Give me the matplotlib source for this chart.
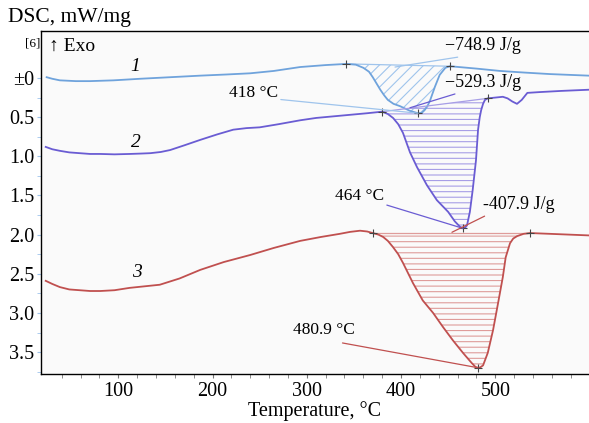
import matplotlib.pyplot as plt
import numpy as np

plt.rcParams['font.family'] = ['Liberation Serif', 'DejaVu Serif']
plt.rcParams['hatch.linewidth'] = 0.8

# curve 1 (light blue)
t1 = [24, 30, 38, 55, 70, 95, 123, 155, 187, 215, 240, 265, 293, 320, 342, 352, 360,
      366, 370, 374, 378, 382, 386, 392, 399, 409.5, 418, 422, 425, 428, 431, 436,
      441, 447, 452, 480, 505, 530, 558, 599]
d1 = [-0.01, 0.01, 0.03, 0.04, 0.04, 0.03, 0.01, -0.01, -0.03, -0.045, -0.06, -0.09,
      -0.14, -0.165, -0.18, -0.17, -0.13, -0.08, -0.01, 0.07, 0.15, 0.22, 0.28, 0.33,
      0.36, 0.42, 0.45, 0.445, 0.41, 0.36, 0.28, 0.11, -0.04, -0.13, -0.15, -0.12,
      -0.09, -0.07, -0.05, -0.03]
base1 = [(342, -0.18), (452, -0.15)]

# curve 2 (purple)
t2 = [23, 30, 38, 48, 59, 70, 81, 96, 112, 124, 134, 145, 155, 170, 187, 205, 222,
      236, 250, 270, 293, 310, 328, 346, 364, 380, 386, 391.5, 397, 402, 409.5, 417,
      427.5, 438, 450, 457, 462.5, 465.7, 468, 470, 473, 476, 479.5, 481.7, 483.5,
      485, 487, 489, 492, 500, 508, 513, 518, 523, 528, 534, 547, 570, 599]
d2 = [0.88, 0.91, 0.93, 0.95, 0.96, 0.97, 0.97, 0.975, 0.97, 0.965, 0.96, 0.945, 0.92,
      0.86, 0.79, 0.72, 0.66, 0.64, 0.63, 0.59, 0.54, 0.51, 0.49, 0.47, 0.45, 0.43,
      0.46, 0.51, 0.59, 0.70, 0.95, 1.14, 1.37, 1.56, 1.71, 1.83, 1.90, 1.92, 1.91,
      1.88, 1.71, 1.43, 1.05, 0.66, 0.50, 0.41, 0.33, 0.28, 0.26, 0.25, 0.24, 0.26,
      0.30, 0.33, 0.28, 0.19, 0.18, 0.165, 0.15]
base2 = [(380, 0.43), (492, 0.26)]

# curve 3 (red)
t3 = [23, 30, 38, 48, 59, 70, 81, 96, 112, 128, 144, 165, 187, 212, 240, 265, 293,
      315, 335, 346, 356.5, 364, 370, 376, 381, 386, 391.5, 397, 402, 412.7, 423, 434,
      444.5, 455, 465.7, 475, 479, 481.7, 484, 487, 492, 497.6, 503, 508, 511, 515.6,
      519, 523, 530, 537, 558, 599]
d3 = [2.59, 2.63, 2.67, 2.70, 2.71, 2.72, 2.72, 2.71, 2.68, 2.66, 2.64, 2.56, 2.45,
      2.35, 2.26, 2.17, 2.08, 2.03, 1.99, 1.965, 1.95, 1.96, 1.98, 2.0, 2.03, 2.08,
      2.16, 2.25, 2.36, 2.62, 2.84, 3.00, 3.18, 3.35, 3.51, 3.64, 3.69, 3.70, 3.695,
      3.67, 3.51, 3.22, 2.87, 2.54, 2.29, 2.11, 2.05, 2.02, 1.99, 1.98, 1.99, 2.01]
base3 = [(370, 1.98), (537, 1.98)]

peaks = [(418, 0.45), (465.7, 1.92), (481.7, 3.70)]

c1, h1 = '#6fa3dc', '#9fc4ec'
c2, h2 = '#6a5cd3', '#a79ee6'
c3, h3 = '#c0504f', '#df9c9a'

fig = plt.figure(figsize=(5.89, 4.23), dpi=100)
ax = fig.add_axes([0.0696, 0.1158, 0.9304, 0.8109])
ax.set_facecolor('#fafafa')


def draw(t, d, base, col, hcol, hatch):
    t = np.array(t)
    d = np.array(d)
    (xa, ya), (xb, yb) = base
    m = (t >= xa) & (t <= xb)
    tt = np.concatenate([[xa], t[m], [xb]])
    dd = np.concatenate([[ya], d[m], [yb]])
    bl = np.interp(tt, [xa, xb], [ya, yb])
    ax.fill_between(tt, bl, dd, facecolor='none', edgecolor=hcol, hatch=hatch, linewidth=0)
    ax.plot([xa, xb], [ya, yb], color=hcol, lw=0.9)
    ax.plot(t, d, color=col, lw=1.3)
    ax.plot([xa, xb], [ya, yb], '+', color='#444444', ms=6, mew=0.8)


draw(t1, d1, base1, c1, h1, '///')
draw(t2, d2, base2, c2, h2, '---')
draw(t3, d3, base3, c3, h3, '---')
for p in peaks:
    ax.plot(*p, '+', color='#444444', ms=6, mew=0.8)

# annotations
notes = [
    ('\u2212748.9 J/g', (446.6, -0.41), (393.6, -0.14), 'left', (0.4, 0.0), h1, 13),
    ('\u2212529.3 J/g', (446.6, 0.06), (409.5, 0.38), 'left', (0.25, 0.0), c2, 13),
    ('418 \u00b0C', (269.5, 0.19), peaks[0], 'right', (1.0, 0.1), h1, 12.5),
    ('464 \u00b0C', (382, 1.51), peaks[1], 'right', (1.0, 0.0), c2, 12.5),
    ('-407.9 J/g', (487, 1.62), (454, 1.97), 'left', (0.1, 0.0), c3, 13),
    ('480.9 \u00b0C', (351, 3.22), peaks[2], 'right', (0.8, -0.3), c3, 12.5),
]
for txt, xyt, xy, ha, rp, col, fs in notes:
    ax.annotate(txt, xy=xy, xytext=xyt, ha=ha, va='center', fontsize=fs,
                arrowprops=dict(arrowstyle='-', color=col, lw=0.9, shrinkA=0,
                                shrinkB=0, relpos=rp))

ax.text(117.7, -0.15, '1', fontsize=14, style='italic', ha='center', va='center')
ax.text(118.8, 0.82, '2', fontsize=14, style='italic', ha='center', va='center')
ax.text(120, 2.48, '3', fontsize=14, style='italic', ha='center', va='center')
ax.text(0.015, 0.955, '\u2191 Exo', transform=ax.transAxes, fontsize=14, va='center')
fig.text(0.042, 0.897, '[6]', fontsize=9.5, va='center')
fig.text(0.014, 0.958, 'DSC, mW/mg', fontsize=15.5, va='center')

ax.set_xlim(18, 599.4)
ax.set_ylim(3.78, -0.60)
ax.set_xticks([100, 200, 300, 400, 500])
ax.set_xticks(np.arange(40, 600, 20), minor=True)
ax.set_yticks([0, 0.5, 1.0, 1.5, 2.0, 2.5, 3.0, 3.5])
ax.set_yticklabels(['\u00b10', '0.5', '1.0', '1.5', '2.0', '2.5', '3.0', '3.5'])
ax.set_yticks(np.arange(0.25, 3.76, 0.5), minor=True)
ax.tick_params(axis='both', labelsize=14.5)
ax.tick_params(axis='x', which='both', length=3, color='#777777', pad=3)
ax.tick_params(axis='y', which='both', length=3, color='#9fc4ec', pad=2)
ax.set_xlabel('Temperature, \u00b0C', fontsize=14.5, labelpad=0)
ax.spines['right'].set_visible(False)
ax.spines['top'].set_linewidth(1.0)
ax.spines['left'].set_linewidth(1.0)
ax.spines['bottom'].set_linewidth(1.0)

fig.savefig('out.png', dpi=100)
